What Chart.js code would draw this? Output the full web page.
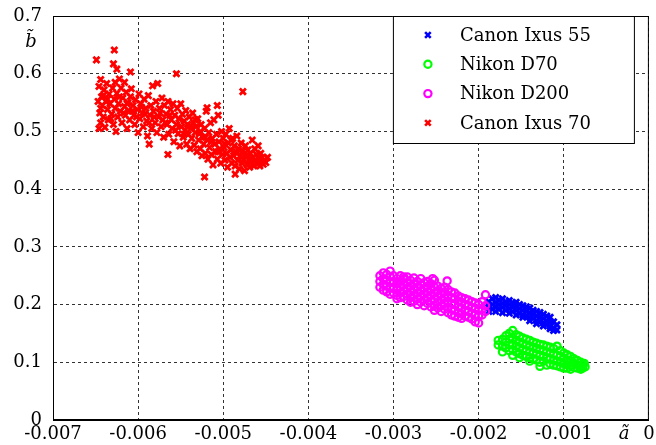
<!DOCTYPE html>
<html>
<head>
<meta charset="utf-8">
<script src="https://cdn.jsdelivr.net/npm/chart.js@4.4.1/dist/chart.umd.min.js"></script>
<style>
  html, body { margin: 0; padding: 0; background: #fff; }
  #wrap { width: 656px; height: 445px; }
</style>
</head>
<body>
<div id="wrap"><canvas id="c"></canvas></div>
<script>
// séries : [a~, b~]
const ixus55 = [
  [-0.00188,0.205],[-0.00188,0.195],[-0.00188,0.188],
  [-0.00184,0.210],[-0.00184,0.200],[-0.00184,0.192],
  [-0.00180,0.212],[-0.00180,0.203],[-0.00180,0.196],[-0.00180,0.188],
  [-0.00176,0.208],[-0.00176,0.200],[-0.00176,0.192],
  [-0.00172,0.210],[-0.00172,0.202],[-0.00172,0.195],[-0.00172,0.186],
  [-0.00168,0.205],[-0.00168,0.198],[-0.00168,0.190],
  [-0.00164,0.207],[-0.00164,0.200],[-0.00164,0.193],[-0.00164,0.185],
  [-0.00160,0.203],[-0.00160,0.196],[-0.00160,0.188],
  [-0.00156,0.204],[-0.00156,0.197],[-0.00156,0.190],[-0.00156,0.182],
  [-0.00152,0.200],[-0.00152,0.193],[-0.00152,0.185],
  [-0.00148,0.198],[-0.00148,0.190],[-0.00148,0.182],[-0.00148,0.178],
  [-0.00144,0.196],[-0.00144,0.188],[-0.00144,0.180],
  [-0.00140,0.194],[-0.00140,0.186],[-0.00140,0.178],[-0.00140,0.172],
  [-0.00136,0.190],[-0.00136,0.183],[-0.00136,0.176],
  [-0.00132,0.188],[-0.00132,0.180],[-0.00132,0.172],[-0.00132,0.167],
  [-0.00128,0.186],[-0.00128,0.178],[-0.00128,0.170],
  [-0.00124,0.183],[-0.00124,0.176],[-0.00124,0.168],[-0.00124,0.163],
  [-0.00120,0.180],[-0.00120,0.172],[-0.00120,0.165],
  [-0.00116,0.178],[-0.00116,0.170],[-0.00116,0.162],[-0.00116,0.158],
  [-0.00112,0.170],[-0.00112,0.160],[-0.00112,0.155],
  [-0.00108,0.165],[-0.00108,0.156]
];

const nikonD70 = [
  [-0.00177,0.130],[-0.00177,0.138],
  [-0.00172,0.128],[-0.00172,0.140],[-0.00172,0.118],
  [-0.00168,0.146],[-0.00168,0.135],[-0.00168,0.125],
  [-0.00164,0.150],[-0.00164,0.140],[-0.00164,0.130],[-0.00164,0.120],
  [-0.00160,0.155],[-0.00160,0.142],[-0.00160,0.132],[-0.00160,0.122],[-0.00160,0.112],
  [-0.00156,0.148],[-0.00156,0.138],[-0.00156,0.128],[-0.00156,0.118],
  [-0.00152,0.145],[-0.00152,0.135],[-0.00152,0.125],[-0.00152,0.115],[-0.00152,0.108],
  [-0.00148,0.142],[-0.00148,0.132],[-0.00148,0.122],[-0.00148,0.112],
  [-0.00144,0.140],[-0.00144,0.130],[-0.00144,0.120],[-0.00144,0.110],
  [-0.00140,0.138],[-0.00140,0.128],[-0.00140,0.118],[-0.00140,0.108],[-0.00140,0.102],
  [-0.00136,0.135],[-0.00136,0.126],[-0.00136,0.116],[-0.00136,0.106],
  [-0.00132,0.133],[-0.00132,0.124],[-0.00132,0.114],[-0.00132,0.104],
  [-0.00128,0.131],[-0.00128,0.122],[-0.00128,0.112],[-0.00128,0.100],[-0.00128,0.093],
  [-0.00124,0.130],[-0.00124,0.120],[-0.00124,0.110],[-0.00124,0.102],
  [-0.00120,0.128],[-0.00120,0.118],[-0.00120,0.108],[-0.00120,0.095],
  [-0.00116,0.126],[-0.00116,0.116],[-0.00116,0.106],[-0.00116,0.097],
  [-0.00112,0.124],[-0.00112,0.114],[-0.00112,0.104],[-0.00112,0.095],
  [-0.00108,0.128],[-0.00108,0.112],[-0.00108,0.102],[-0.00108,0.094],
  [-0.00104,0.120],[-0.00104,0.110],[-0.00104,0.100],[-0.00104,0.092],
  [-0.00100,0.116],[-0.00100,0.107],[-0.00100,0.098],[-0.00100,0.090],
  [-0.00096,0.113],[-0.00096,0.104],[-0.00096,0.096],[-0.00096,0.090],
  [-0.00092,0.110],[-0.00092,0.102],[-0.00092,0.094],[-0.00092,0.088],
  [-0.00088,0.106],[-0.00088,0.098],[-0.00088,0.091],
  [-0.00084,0.103],[-0.00084,0.096],[-0.00084,0.090],
  [-0.00080,0.100],[-0.00080,0.093],[-0.00080,0.088],
  [-0.00078,0.096],[-0.00078,0.090],[-0.00075,0.092],[-0.00076,0.098]
];

const nikonD200 = [
  [-0.00316,0.250],[-0.00316,0.240],[-0.00316,0.230],
  [-0.00312,0.255],[-0.00312,0.245],[-0.00312,0.235],[-0.00312,0.225],
  [-0.00308,0.252],[-0.00308,0.242],[-0.00308,0.232],[-0.00308,0.222],
  [-0.00304,0.258],[-0.00304,0.248],[-0.00304,0.238],[-0.00304,0.228],[-0.00304,0.218],
  [-0.00300,0.250],[-0.00300,0.240],[-0.00300,0.230],[-0.00300,0.220],
  [-0.00296,0.245],[-0.00296,0.236],[-0.00296,0.226],[-0.00296,0.216],[-0.00296,0.210],
  [-0.00292,0.250],[-0.00292,0.240],[-0.00292,0.230],[-0.00292,0.220],[-0.00292,0.212],
  [-0.00288,0.248],[-0.00288,0.244],[-0.00288,0.234],[-0.00288,0.224],[-0.00288,0.214],
  [-0.00284,0.248],[-0.00284,0.238],[-0.00284,0.228],[-0.00284,0.218],[-0.00284,0.208],
  [-0.00280,0.242],[-0.00280,0.232],[-0.00280,0.222],[-0.00280,0.212],[-0.00280,0.204],
  [-0.00276,0.246],[-0.00276,0.236],[-0.00276,0.226],[-0.00276,0.216],[-0.00276,0.206],
  [-0.00272,0.240],[-0.00272,0.230],[-0.00272,0.220],[-0.00272,0.210],[-0.00272,0.200],
  [-0.00268,0.245],[-0.00268,0.234],[-0.00268,0.224],[-0.00268,0.214],[-0.00268,0.204],
  [-0.00264,0.238],[-0.00264,0.228],[-0.00264,0.218],[-0.00264,0.208],[-0.00264,0.198],
  [-0.00260,0.240],[-0.00260,0.232],[-0.00260,0.222],[-0.00260,0.212],[-0.00260,0.202],
  [-0.00256,0.236],[-0.00256,0.226],[-0.00256,0.216],[-0.00256,0.206],[-0.00256,0.196],
  [-0.00254,0.245],
  [-0.00252,0.242],[-0.00252,0.230],[-0.00252,0.220],[-0.00252,0.210],[-0.00252,0.198],[-0.00252,0.190],
  [-0.00248,0.232],[-0.00248,0.224],[-0.00248,0.214],[-0.00248,0.204],[-0.00248,0.194],
  [-0.00244,0.228],[-0.00244,0.218],[-0.00244,0.208],[-0.00244,0.198],[-0.00244,0.188],
  [-0.00240,0.230],[-0.00240,0.222],[-0.00240,0.212],[-0.00240,0.202],[-0.00240,0.192],
  [-0.00237,0.241],
  [-0.00236,0.226],[-0.00236,0.216],[-0.00236,0.206],[-0.00236,0.196],[-0.00236,0.186],
  [-0.00232,0.222],[-0.00232,0.212],[-0.00232,0.202],[-0.00232,0.192],[-0.00232,0.182],
  [-0.00228,0.220],[-0.00228,0.210],[-0.00228,0.200],[-0.00228,0.190],[-0.00228,0.180],
  [-0.00224,0.215],[-0.00224,0.206],[-0.00224,0.196],[-0.00224,0.186],[-0.00224,0.178],
  [-0.00220,0.212],[-0.00220,0.204],[-0.00220,0.194],[-0.00220,0.184],[-0.00220,0.176],
  [-0.00216,0.210],[-0.00216,0.200],[-0.00216,0.190],[-0.00216,0.180],
  [-0.00212,0.208],[-0.00212,0.198],[-0.00212,0.188],[-0.00212,0.178],
  [-0.00208,0.205],[-0.00208,0.195],[-0.00208,0.185],[-0.00208,0.175],
  [-0.00204,0.203],[-0.00204,0.193],[-0.00204,0.183],[-0.00204,0.170],
  [-0.00200,0.200],[-0.00200,0.190],[-0.00200,0.180],[-0.00200,0.168],
  [-0.00196,0.205],[-0.00196,0.192],[-0.00196,0.182],
  [-0.00192,0.217],[-0.00192,0.198],[-0.00192,0.188]
];

const ixus70 = [
  // isolés
  [-0.00649,0.624],[-0.00628,0.641],[-0.00629,0.617],[-0.00625,0.608],[-0.00609,0.603],
  [-0.00555,0.600],[-0.00477,0.569],[-0.00646,0.505],[-0.00522,0.421],[-0.00486,0.426],
  [-0.00565,0.460],[-0.00587,0.478],[-0.00616,0.585],[-0.00622,0.591],
  // nuage gauche
  [-0.00647,0.552],[-0.00646,0.578],[-0.00645,0.532],[-0.00644,0.590],[-0.00644,0.515],
  [-0.00643,0.560],[-0.00642,0.545],[-0.00641,0.525],[-0.00640,0.572],[-0.00639,0.507],
  [-0.00638,0.552],[-0.00637,0.583],[-0.00636,0.538],[-0.00635,0.520],[-0.00634,0.565],
  [-0.00633,0.548],[-0.00631,0.530],[-0.00630,0.575],[-0.00629,0.512],[-0.00628,0.556],
  [-0.00627,0.540],[-0.00626,0.500],[-0.00625,0.566],[-0.00624,0.525],[-0.00623,0.548],
  [-0.00621,0.535],[-0.00620,0.575],[-0.00619,0.515],[-0.00618,0.558],[-0.00616,0.543],
  [-0.00615,0.528],[-0.00614,0.568],[-0.00613,0.505],[-0.00612,0.550],[-0.00611,0.536],
  [-0.00610,0.520],[-0.00609,0.560],[-0.00608,0.574],
  [-0.00644,0.540],[-0.00641,0.562],[-0.00636,0.556],[-0.00632,0.522],[-0.00627,0.585],
  [-0.00622,0.560],[-0.00617,0.532],[-0.00613,0.548],[-0.00607,0.535],
  // milieu
  [-0.00606,0.545],[-0.00605,0.528],[-0.00604,0.512],[-0.00603,0.555],[-0.00601,0.538],
  [-0.00600,0.498],[-0.00599,0.565],[-0.00598,0.522],[-0.00597,0.548],[-0.00595,0.532],
  [-0.00594,0.508],[-0.00593,0.556],[-0.00591,0.540],[-0.00590,0.518],[-0.00589,0.492],
  [-0.00588,0.562],[-0.00586,0.528],[-0.00585,0.545],[-0.00584,0.505],[-0.00583,0.579],
  [-0.00582,0.535],[-0.00580,0.515],[-0.00579,0.552],[-0.00578,0.498],[-0.00577,0.583],
  [-0.00576,0.525],[-0.00575,0.540],[-0.00573,0.508],[-0.00572,0.558],[-0.00571,0.520],
  [-0.00570,0.490],[-0.00569,0.545],[-0.00567,0.530],[-0.00566,0.512],[-0.00565,0.552],
  [-0.00564,0.495],[-0.00562,0.538],[-0.00561,0.520],[-0.00560,0.505],[-0.00559,0.548],
  [-0.00558,0.482],[-0.00557,0.528],[-0.00555,0.512],[-0.00554,0.540],[-0.00553,0.496],
  [-0.00552,0.522],[-0.00551,0.475],[-0.00550,0.548],
  [-0.00602,0.525],[-0.00596,0.542],[-0.00592,0.530],[-0.00587,0.515],[-0.00581,0.525],
  [-0.00574,0.532],[-0.00568,0.515],[-0.00563,0.528],[-0.00556,0.502],
  // droite
  [-0.00549,0.508],[-0.00548,0.530],[-0.00547,0.490],[-0.00546,0.518],[-0.00545,0.502],
  [-0.00544,0.536],[-0.00543,0.478],[-0.00542,0.512],[-0.00541,0.495],[-0.00540,0.525],
  [-0.00539,0.470],[-0.00538,0.505],[-0.00537,0.488],[-0.00536,0.532],[-0.00535,0.515],
  [-0.00534,0.476],[-0.00533,0.498],[-0.00532,0.508],[-0.00531,0.465],[-0.00530,0.522],
  [-0.00529,0.485],[-0.00528,0.496],[-0.00527,0.470],[-0.00526,0.512],[-0.00525,0.458],
  [-0.00524,0.490],[-0.00523,0.478],[-0.00522,0.505],[-0.00521,0.462],[-0.00520,0.535],
  [-0.00519,0.485],[-0.00518,0.452],[-0.00517,0.498],[-0.00516,0.472],[-0.00515,0.515],
  [-0.00514,0.460],[-0.00513,0.488],[-0.00512,0.442],[-0.00511,0.520],[-0.00510,0.478],
  [-0.00509,0.465],[-0.00508,0.495],[-0.00507,0.452],[-0.00506,0.528],[-0.00505,0.482],
  [-0.00504,0.470],[-0.00503,0.445],[-0.00502,0.500],[-0.00501,0.460],[-0.00500,0.488],
  [-0.00546,0.495],[-0.00539,0.510],[-0.00533,0.520],[-0.00527,0.500],[-0.00521,0.490],
  [-0.00514,0.482],[-0.00506,0.465],[-0.00519,0.541],[-0.00507,0.545],
  // extrémité
  [-0.00499,0.472],[-0.00498,0.450],[-0.00497,0.495],[-0.00496,0.462],[-0.00495,0.438],
  [-0.00494,0.480],[-0.00493,0.505],[-0.00492,0.455],[-0.00491,0.468],[-0.00490,0.445],
  [-0.00489,0.488],[-0.00488,0.458],[-0.00487,0.475],[-0.00486,0.440],[-0.00485,0.465],
  [-0.00484,0.492],[-0.00483,0.450],[-0.00482,0.470],[-0.00481,0.435],[-0.00480,0.458],
  [-0.00479,0.480],[-0.00478,0.445],[-0.00477,0.466],[-0.00476,0.452],[-0.00475,0.432],
  [-0.00474,0.475],[-0.00473,0.458],[-0.00472,0.442],[-0.00471,0.468],[-0.00470,0.450],
  [-0.00469,0.438],[-0.00468,0.462],[-0.00467,0.447],[-0.00466,0.485],[-0.00465,0.455],
  [-0.00464,0.440],[-0.00463,0.470],[-0.00462,0.450],[-0.00461,0.460],[-0.00460,0.443],
  [-0.00459,0.475],[-0.00458,0.452],[-0.00457,0.440],[-0.00456,0.462],[-0.00455,0.448],
  [-0.00454,0.455],[-0.00453,0.443],[-0.00452,0.450],[-0.00450,0.446],[-0.00448,0.455],
  [-0.00498,0.478],[-0.00491,0.485],[-0.00484,0.462],[-0.00478,0.455],[-0.00472,0.460]
];

const seriesNames = ['Canon Ixus 55', 'Nikon D70', 'Nikon D200', 'Canon Ixus 70'];
const seriesColors = ['#0000ff', '#00ff00', '#ff00ff', '#ff0000'];
const seriesMarkers = ['crossRot', 'circle', 'circle', 'crossRot'];
const seriesData = [ixus55, nikonD70, nikonD200, ixus70];

const FONT = '"DejaVu Serif", serif';

// légende encadrée + libellés d'axes
const extras = {
  id: 'extras',
  afterDatasetsDraw(chart) {
    const ctx = chart.ctx;
    const a = chart.chartArea;
    ctx.save();
    // cadre
    ctx.strokeStyle = '#000';
    ctx.lineWidth = 1;
    ctx.setLineDash([]);
    ctx.strokeRect(a.left + 0.5, a.top + 0.5, a.right - a.left - 1, a.bottom - a.top - 1);

    // légende
    const bx = a.right - 256, by = a.top, bw = 241, bh = 127;
    ctx.fillStyle = '#fff';
    ctx.fillRect(bx, by, bw, bh);
    ctx.strokeRect(bx + 0.5, by + 0.5, bw, bh);
    ctx.font = '18px ' + FONT;
    ctx.textBaseline = 'middle';
    ctx.textAlign = 'left';
    seriesNames.forEach((name, i) => {
      const y = by + 19 + i * 29.3;
      const x = bx + 35;
      ctx.strokeStyle = seriesColors[i];
      if (seriesMarkers[i] === 'circle') {
        ctx.lineWidth = 2.2;
        ctx.beginPath();
        ctx.arc(x, y, 3.6, 0, Math.PI * 2);
        ctx.stroke();
      } else {
        ctx.lineWidth = 2.6;
        ctx.beginPath();
        ctx.moveTo(x - 2.8, y - 2.8); ctx.lineTo(x + 2.8, y + 2.8);
        ctx.moveTo(x - 2.8, y + 2.8); ctx.lineTo(x + 2.8, y - 2.8);
        ctx.stroke();
      }
      ctx.fillStyle = '#000';
      ctx.fillText(name, bx + 67, y + 1);
    });

    // titres d'axes
    ctx.font = 'italic 18px ' + FONT;
    ctx.textAlign = 'center';
    ctx.fillText('b\u0303', 31, 42);
    ctx.fillText('a\u0303', 624, 434);
    ctx.restore();
  }
};

const ctx = document.getElementById('c').getContext('2d');
new Chart(ctx, {
  type: 'scatter',
  data: {
    datasets: seriesData.map((d, i) => ({
      label: seriesNames[i],
      data: d.map(p => ({ x: p[0], y: p[1] })),
      pointStyle: seriesMarkers[i],
      pointRadius: seriesMarkers[i] === 'circle' ? 3.6 : 4.3,
      pointBorderWidth: seriesMarkers[i] === 'circle' ? 2.2 : 2.8,
      borderColor: seriesColors[i],
      backgroundColor: 'rgba(0,0,0,0)',
      order: 4 - i
    }))
  },
  options: {
    responsive: true,
    maintainAspectRatio: false,
    animation: false,
    events: [],
    layout: { padding: { top: 16, right: 4.5, left: 0, bottom: 0 } },
    plugins: { legend: { display: false }, tooltip: { enabled: false } },
    scales: {
      x: {
        type: 'linear',
        min: -0.007,
        max: 0,
        afterFit: s => { s.height = 25; s.paddingLeft = 0; s.paddingRight = 0; },
        ticks: {
          stepSize: 0.001,
          color: '#000',
          padding: 4,
          maxRotation: 0,
          font: { family: FONT, size: 18 },
          callback: v => Math.abs(v) < 1e-9 ? '0' : v.toFixed(3)
        },
        grid: { color: '#333', lineWidth: 1, drawTicks: false },
        border: { display: true, color: '#000', dash: [3, 3] }
      },
      y: {
        type: 'linear',
        min: 0,
        max: 0.7,
        afterFit: s => { s.width = 53; s.paddingTop = 0; s.paddingBottom = 0; },
        ticks: {
          stepSize: 0.1,
          color: '#000',
          padding: 11,
          font: { family: FONT, size: 18 },
          callback: v => Math.abs(v) < 1e-9 ? '0' : v.toFixed(1)
        },
        grid: { color: '#333', lineWidth: 1, drawTicks: false },
        border: { display: true, color: '#000', dash: [3, 3] }
      }
    }
  },
  plugins: [extras]
});
</script>
</body>
</html>
